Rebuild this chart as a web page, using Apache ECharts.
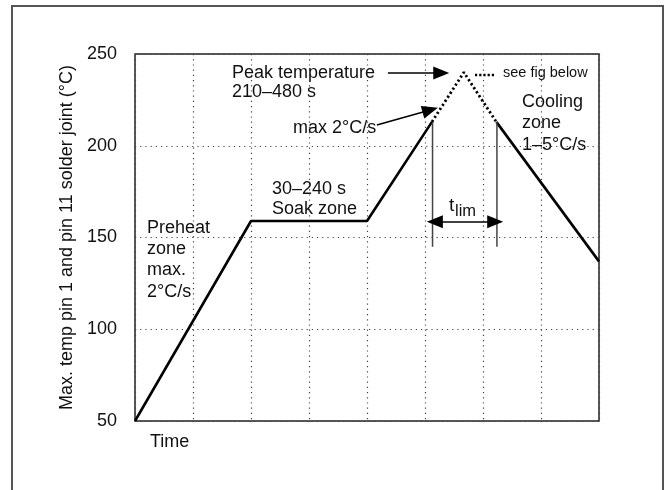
<!DOCTYPE html>
<html><head><meta charset="utf-8">
<script src="https://cdn.jsdelivr.net/npm/echarts@6/dist/echarts.min.js"></script>
<style>html,body{margin:0;padding:0;background:#fff}#c{width:665px;height:490px}</style>
</head><body><div id="c"></div>
<script>
// profile (x: relative time units, y: °C)
const rampSolid = [[0,50],[2,159],[4,159],[5.12,213]];
const peakDotted = [[5.12,213],[5.67,240],[6.23,213]];
const coolSolid = [[6.23,213],[8,137]];
const limitLines = [[[5.13,213],[5.13,145]], [[6.24,213],[6.24,145]]];
const tlimArrow = [[5.17,158.6],[6.21,158.6]];
const peakArrow = [[4.36,239.6],[5.28,239.6]];
const slopeArrow = [[4.17,211.3],[5.09,219.5]];
const yTicks = [50,100,150,200,250];

const FONT = '"Liberation Sans", Arial, Helvetica, sans-serif';
const chart = echarts.init(document.getElementById('c'), null, {renderer:'canvas'});
const grid = {left:135, right:66, top:54, bottom:69, show:true, borderColor:'#222', borderWidth:1.5};
const dotGrid = {show:true, lineStyle:{color:'#444', width:1.2, type:[1.2,4]}};

function txt(text, x, y, size, extra){
  return Object.assign({type:'text', silent:true, style:{text:text, x:x, y:y,
    font: size+'px '+FONT, fill:'#111', textAlign:'left', textVerticalAlign:'middle',
    align:'left', verticalAlign:'middle'}}, extra||{});
}
const head = {symbol:'triangle', symbolSize:[13,16]};

chart.setOption({
  animation:false,
  grid: grid,
  xAxis: {type:'value', min:0, max:8, interval:1,
    axisLine:{show:false}, axisTick:{show:false}, axisLabel:{show:false}, splitLine:dotGrid},
  yAxis: {type:'value', min:yTicks[0], max:yTicks[yTicks.length-1], interval:50,
    name:'Max. temp pin 1 and pin 11 solder joint (°C)', nameLocation:'middle', nameGap:55,
    nameTextStyle:{fontSize:18, fontFamily:FONT, color:'#111'},
    axisLine:{show:false}, axisTick:{show:false},
    axisLabel:{fontSize:18, fontFamily:FONT, color:'#111', margin:18},
    splitLine:dotGrid},
  series: [
    {type:'line', data:rampSolid, symbol:'none', lineStyle:{color:'#000', width:2.6}},
    {type:'line', data:peakDotted, symbol:'none', lineStyle:{color:'#000', width:2.8, type:[2.2,2.6]}},
    {type:'line', data:coolSolid, symbol:'none', lineStyle:{color:'#000', width:2.6}},
    {type:'line', data:limitLines[0], symbol:'none', lineStyle:{color:'#444', width:1.5}},
    {type:'line', data:limitLines[1], symbol:'none', lineStyle:{color:'#444', width:1.5}},
    {type:'line', data:[], silent:true,
      markLine:{silent:true, animation:false, label:{show:false},
        lineStyle:{color:'#000', width:1.5, type:'solid'},
        data:[
          [Object.assign({coord:tlimArrow[0]}, head), Object.assign({coord:tlimArrow[1]}, head)],
          [{coord:peakArrow[0], symbol:'none'}, Object.assign({coord:peakArrow[1]}, head)],
          [{coord:slopeArrow[0], symbol:'none'}, Object.assign({coord:slopeArrow[1]}, head)]
        ]}}
  ],
  graphic: [
    {type:'rect', silent:true, shape:{x:12, y:6, width:651, height:500},
      style:{fill:'none', stroke:'#555', lineWidth:2}},
    txt('Peak temperature', 232, 73, 18),
    txt('210–480 s', 232, 92, 18),
    {type:'line', silent:true, shape:{x1:475, y1:75, x2:495, y2:75},
      style:{stroke:'#000', lineWidth:2.6, lineDash:[2.2,2]}},
    txt('see fig below', 503, 73, 14.5),
    txt('max 2°C/s', 293, 128, 18),
    txt('Cooling', 522, 102, 18),
    txt('zone', 522, 123, 18),
    txt('1–5°C/s', 522, 145, 18),
    txt('30–240 s', 272, 189, 18),
    txt('Soak zone', 272, 209, 18),
    txt('Preheat', 147, 228, 18),
    txt('zone', 147, 249, 18),
    txt('max.', 147, 270, 18),
    txt('2°C/s', 147, 292, 18),
    txt('t', 449, 206, 19),
    txt('lim', 455, 211, 16.5),
    txt('Time', 150, 442, 18)
  ]
});
</script></body></html>
